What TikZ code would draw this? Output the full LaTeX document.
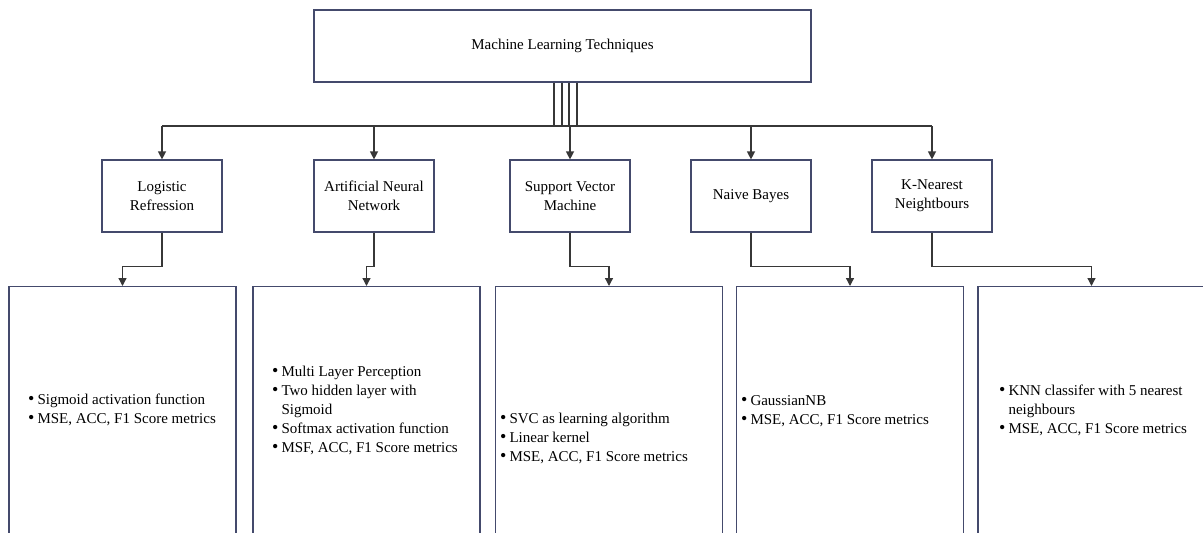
\documentclass[tikz,border=0pt]{standalone}
\usepackage{fontspec}
\setmainfont{Liberation Serif}
\usetikzlibrary{arrows.meta}
\definecolor{boxline}{RGB}{68,74,108}
\definecolor{wirecol}{RGB}{55,55,55}
\newcommand{\bulletlist}[1]{\begin{tabular}{@{}l@{\hspace{3pt}}l@{}}#1\end{tabular}}
\newcommand{\dotmark}{\raisebox{0.5pt}{\scalebox{1.2}{\textbullet}}}
\begin{document}
\begin{tikzpicture}[x=1pt,y=-1pt,
  box/.style={draw=boxline, line width=1.2pt, fill=white, inner sep=0pt,
    align=center, font=\fontsize{15}{19}\selectfont},
  topbox/.style={box, minimum width=497pt, minimum height=72pt},
  methodbox/.style={box, minimum width=120pt, minimum height=72pt},
  detailbox/.style={box, minimum width=227pt, minimum height=270pt, anchor=north},
  itemlist/.style={inner sep=0pt, anchor=north west, align=left,
    font=\fontsize{15}{19}\selectfont},
  wire/.style={draw=wirecol, line width=1.3pt},
  arr/.style={wire, -{Triangle[length=8pt,width=8pt]}},
]
\useasboundingbox (0,0) rectangle (1203,533);
\clip (0,0) rectangle (1203,533);

% root
\node[topbox] (mlt) at (562.5,46) {Machine Learning Techniques};

% methods
\node[methodbox] (lr)  at (162,196) {Logistic\\Refression};
\node[methodbox] (ann) at (374,196) {Artificial Neural\\Network};
\node[methodbox] (svm) at (570,196) {Support Vector\\Machine};
\node[methodbox] (nb)  at (751,196) {Naive Bayes};
\node[methodbox] (knn) at (932,196) {K-Nearest\\Neightbours};

% detail panels
\node[detailbox] (lrd)  at (122.5,286) {};
\node[detailbox] (annd) at (366.5,286) {};
\node[detailbox] (svmd) at (609,286) {};
\node[detailbox] (nbd)  at (850,286) {};
\node[detailbox] (knnd) at (1091.5,286) {};

% detail texts
\node[itemlist] (lrt) at (28,391) {\bulletlist{
  \dotmark & Sigmoid activation function\\
  \dotmark & MSE, ACC, F1 Score metrics}};
\node[itemlist] (annt) at (272,363) {\bulletlist{
  \dotmark & Multi Layer Perception\\
  \dotmark & Two hidden layer with\\
           & Sigmoid\\
  \dotmark & Softmax activation function\\
  \dotmark & MSF, ACC, F1 Score metrics}};
\node[itemlist] (svmt) at (500,410) {\bulletlist{
  \dotmark & SVC as learning algorithm\\
  \dotmark & Linear kernel\\
  \dotmark & MSE, ACC, F1 Score metrics}};
\node[itemlist] (nbt) at (741,392) {\bulletlist{
  \dotmark & GaussianNB\\
  \dotmark & MSE, ACC, F1 Score metrics}};
\node[itemlist] (knnt) at (999,382) {\bulletlist{
  \dotmark & KNN classifer with 5 nearest\\
           & neighbours\\
  \dotmark & MSE, ACC, F1 Score metrics}};

% distribution bus
\coordinate (bus) at (0,126);
\foreach \dx in {-8.5,-0.5,6.5,14.5}
  \draw[wire] ([xshift=\dx pt]mlt.south) -- ([xshift=\dx pt]mlt.south |- bus);
\draw[wire] (lr.north |- bus) -- (knn.north |- bus);
\foreach \m in {lr,ann,svm,nb,knn}
  \draw[arr] (\m.north |- bus) -- (\m.north);

% method to panel elbows
\foreach \m in {lr,ann,svm,nb,knn}
  \draw[arr] (\m.south) -- ++(0,34) -| (\m d.north);
\end{tikzpicture}
\end{document}
